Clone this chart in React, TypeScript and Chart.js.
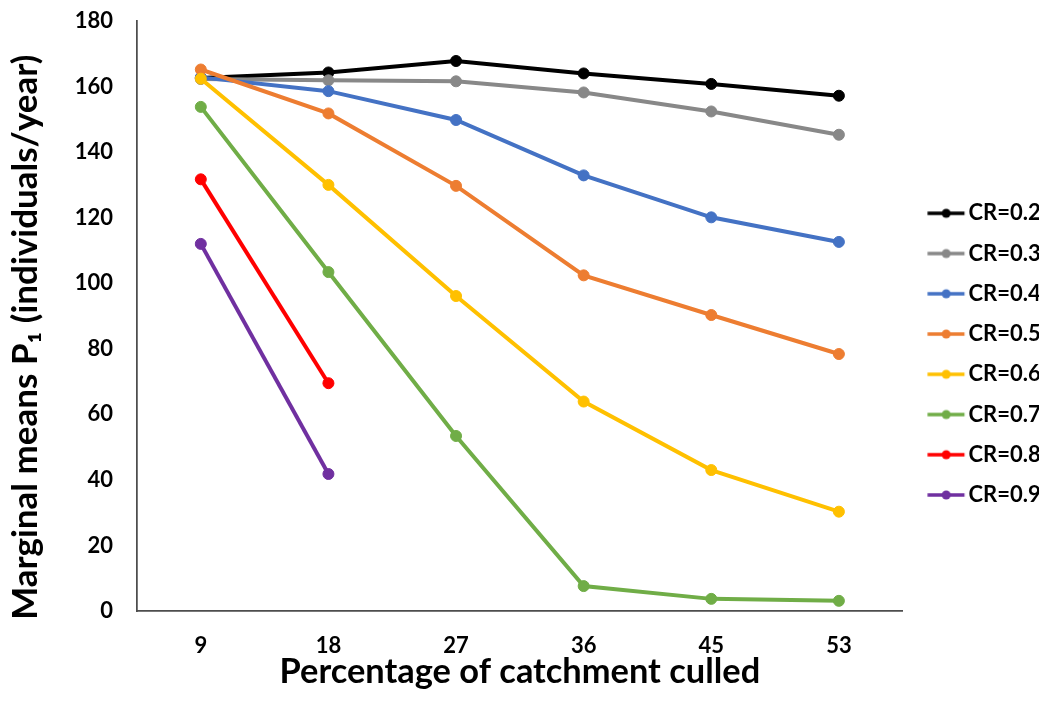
import { useEffect, useRef } from "react";
import { Chart, registerables } from "chart.js";

Chart.register(...registerables);

// Percentage of catchment culled (x categories)
const categories = ["9", "18", "27", "36", "45", "53"];

// Marginal means of P1 for each cull ratio
const cr02 = [162.6, 164.3, 167.8, 164.0, 160.8, 157.2];
const cr03 = [162.3, 161.9, 161.6, 158.2, 152.4, 145.3];
const cr04 = [162.8, 158.6, 149.8, 132.9, 120.1, 112.6];
const cr05 = [165.2, 151.8, 129.7, 102.4, 90.3, 78.4];
const cr06 = [162.4, 130.0, 96.1, 63.9, 43.0, 30.3];
const cr07 = [153.8, 103.4, 53.4, 7.6, 3.7, 3.1];
const cr08 = [131.7, 69.5, null, null, null, null];
const cr09 = [112.0, 41.8, null, null, null, null];

const seriesValues = [cr02, cr03, cr04, cr05, cr06, cr07, cr08, cr09];
const seriesLabels = ["CR=0.2", "CR=0.3", "CR=0.4", "CR=0.5", "CR=0.6", "CR=0.7", "CR=0.8", "CR=0.9"];
const seriesColors = ["#000000", "#888888", "#4472C4", "#ED7D31", "#FFC000", "#70AD47", "#FF0000", "#7030A0"];

const FONT = "Lato, 'Open Sans', 'DejaVu Sans', sans-serif";
const AXIS_COLOR = "#4d4d4d";

// Small line-with-dot swatch used as the legend marker
function makeSwatch(color: string): HTMLCanvasElement {
  const c = document.createElement("canvas");
  c.width = 56;
  c.height = 12;
  const ctx = c.getContext("2d")!;
  ctx.strokeStyle = color;
  ctx.lineWidth = 3.5;
  ctx.beginPath();
  ctx.moveTo(16.3, 6);
  ctx.lineTo(53.3, 6);
  ctx.stroke();
  ctx.fillStyle = color;
  ctx.beginPath();
  ctx.arc(35, 6, 4.5, 0, Math.PI * 2);
  ctx.fill();
  return c;
}

export default function App() {
  const canvasRef = useRef<HTMLCanvasElement>(null);

  useEffect(() => {
    const canvas = canvasRef.current;
    if (!canvas) return;
    const swatches = seriesColors.map((c) => makeSwatch(c));
    const n = seriesValues.length;

    const chart = new Chart(canvas, {
      type: "line",
      data: {
        labels: categories,
        datasets: seriesValues.map((values, i) => ({
          label: seriesLabels[i],
          data: values,
          borderColor: seriesColors[i],
          backgroundColor: seriesColors[i],
          pointBackgroundColor: seriesColors[i],
          pointBorderColor: seriesColors[i],
          borderWidth: 4,
          pointRadius: 5.5,
          pointBorderWidth: 1,
          tension: 0,
          spanGaps: false,
          // later series are painted on top
          order: n - i,
        })),
      },
      options: {
        responsive: false,
        animation: false,
        events: [],
        layout: { padding: { top: 13, right: 0, bottom: 9.7, left: 0 } },
        scales: {
          x: {
            type: "category",
            offset: true,
            grid: { display: true, color: "transparent", drawTicks: false },
            border: { display: true, color: AXIS_COLOR, width: 1.75 },
            ticks: {
              color: "#000",
              font: { family: FONT, size: 22, weight: "bold" },
              padding: 22,
              maxRotation: 0,
              autoSkip: false,
            },
            title: {
              display: true,
              text: "Percentage of catchment culled",
              color: "#000",
              font: { family: FONT, size: 34.4, weight: "bold", lineHeight: 1 },
              padding: { top: 0, bottom: -2 },
            },
            afterFit: (scale: any) => {
              scale.height = 76.3;
            },
          },
          y: {
            min: 0,
            max: 180,
            grid: { display: true, color: "transparent", drawTicks: false },
            border: { display: true, color: AXIS_COLOR, width: 1.75 },
            ticks: {
              stepSize: 20,
              color: "#000",
              font: { family: FONT, size: 22, weight: "bold" },
              padding: 24,
            },
            title: {
              display: true,
              text: "Marginal means P\u2081 (individuals/year)\u00A0\u00A0\u00A0\u00A0\u00A0",
              color: "#000",
              font: { family: FONT, size: 35, weight: "bold", lineHeight: 1 },
              padding: { top: 0.5, bottom: 0 },
            },
            afterFit: (scale: any) => {
              scale.width = 129;
              scale.paddingTop = 0;
              scale.paddingBottom = 0;
            },
          },
        },
        plugins: {
          legend: {
            position: "right",
            align: "center",
            maxWidth: 136.3,
            labels: {
              usePointStyle: true,
              pointStyleWidth: 36.6,
              padding: 18.24,
              color: "#000",
              font: { family: FONT, size: 22, weight: "bold" },
              generateLabels: () =>
                seriesLabels.map((text, i) => ({
                  text,
                  pointStyle: swatches[i],
                  fillStyle: seriesColors[i],
                  strokeStyle: seriesColors[i],
                  lineWidth: 0,
                  hidden: false,
                  datasetIndex: i,
                  fontColor: "#000",
                })),
            },
          },
          tooltip: { enabled: false },
        },
      } as any,
    });

    return () => chart.destroy();
  }, []);

  return (
    <div style={{ width: 1031, height: 689 }}>
      <canvas ref={canvasRef} width={1031} height={689} style={{ display: "block" }} />
    </div>
  );
}
